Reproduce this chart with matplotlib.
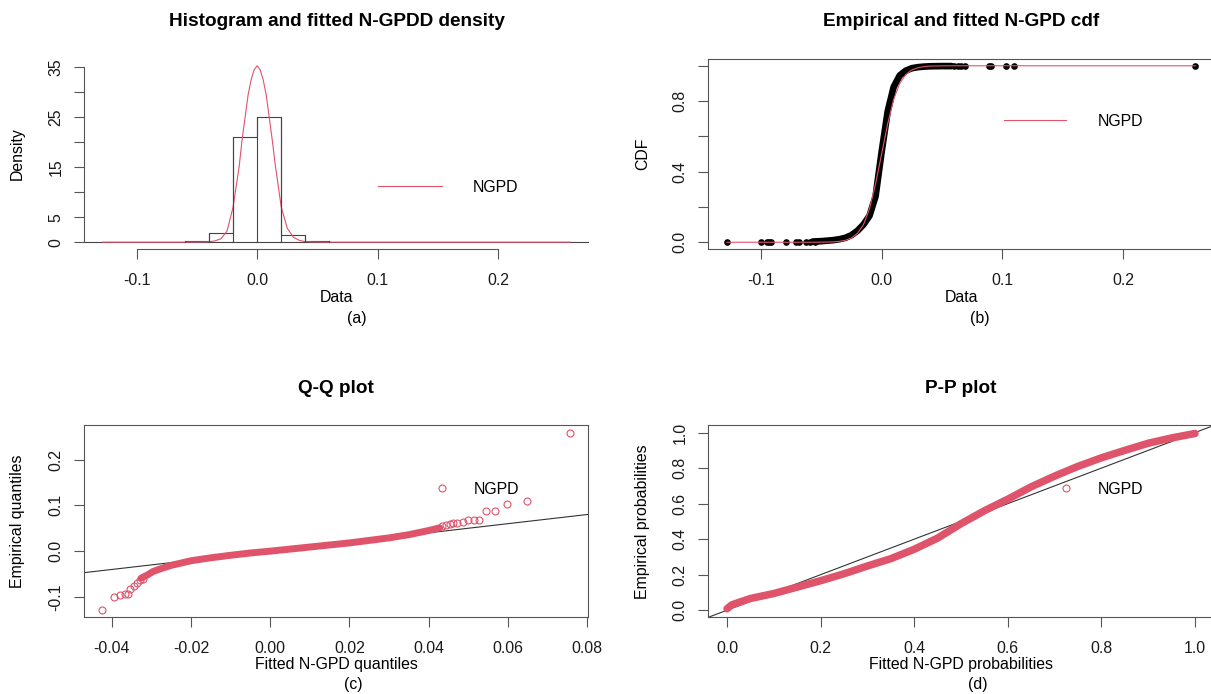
import matplotlib
matplotlib.use("Agg")
import matplotlib.pyplot as plt

plt.rcParams["font.family"] = ["Liberation Sans", "DejaVu Sans"]
plt.rcParams["font.size"] = 11.4

RED = "#DF536B"
AXC = "#555555"
W, H = 1211, 694

# ---- (a) histogram + fitted density ----
hist_edges = [-0.06, -0.04, -0.02, 0.0, 0.02, 0.04, 0.06]
hist_density = [0.2, 1.8, 21.1, 25.0, 1.45, 0.15]
dens_x = [-0.128, -0.06, -0.05, -0.04, -0.035, -0.03, -0.025, -0.02, -0.015, -0.0125, -0.01,
          -0.0075, -0.005, -0.0025, 0.0, 0.0025, 0.005, 0.0075, 0.01, 0.0125, 0.015, 0.02,
          0.025, 0.03, 0.035, 0.04, 0.05, 0.06, 0.26]
dens_y = [0.0, 0.0, 0.01, 0.08, 0.25, 0.7, 2.2, 7.0, 15.0, 20.5, 25.0,
          29.5, 32.5, 34.5, 35.3, 34.5, 32.5, 29.5, 25.0, 20.5, 15.5, 7.0,
          2.8, 1.0, 0.35, 0.1, 0.01, 0.0, 0.0]

# ---- (b) empirical and fitted cdf ----
ecdf_x = [-0.057, -0.05, -0.04, -0.035, -0.03, -0.025, -0.02, -0.015, -0.01, -0.005, 0.0,
          0.005, 0.01, 0.015, 0.02, 0.025, 0.03, 0.035, 0.04, 0.05, 0.058]
ecdf_p = [0.004, 0.006, 0.012, 0.017, 0.025, 0.04, 0.065, 0.1, 0.15, 0.26, 0.51,
          0.74, 0.88, 0.945, 0.972, 0.986, 0.992, 0.995, 0.997, 0.998, 0.998]
tail_x = [-0.128, -0.1, -0.0952, -0.0929, -0.0913, -0.079, -0.071, -0.0684, -0.0629, -0.0597,
          -0.0555, 0.0597, 0.063, 0.066, 0.0694, 0.0887, 0.0903, 0.1032, 0.1097, 0.2597]
tail_p = [0.0003, 0.0006, 0.0009, 0.0012, 0.0015, 0.0018, 0.0021, 0.0024, 0.0027, 0.003,
          0.0035, 0.9985, 0.9988, 0.999, 0.9992, 0.9994, 0.9995, 0.9997, 0.9998, 1.0]
fcdf_x = [-0.128, -0.06, -0.05, -0.04, -0.035, -0.03, -0.025, -0.02, -0.015, -0.01, -0.005,
          0.0, 0.005, 0.01, 0.015, 0.02, 0.025, 0.03, 0.035, 0.04, 0.05, 0.06, 0.26]
fcdf_p = [0.0, 0.0, 0.0005, 0.002, 0.005, 0.011, 0.024, 0.05, 0.1, 0.19, 0.33,
          0.5, 0.67, 0.81, 0.9, 0.95, 0.976, 0.989, 0.995, 0.998, 0.9995, 1.0, 1.0]

# ---- (c) Q-Q plot ----
qq_band_x = [-0.0326, -0.031, -0.0297, -0.0282, -0.0268, -0.025, -0.0225, -0.02, -0.015, -0.01,
             -0.005, 0.0, 0.005, 0.01, 0.015, 0.02, 0.025, 0.03, 0.035, 0.04, 0.0428]
qq_band_y = [-0.059, -0.052, -0.045, -0.040, -0.036, -0.031, -0.026, -0.021, -0.0145, -0.009,
             -0.004, 0.0, 0.0045, 0.009, 0.0135, 0.018, 0.0235, 0.029, 0.036, 0.045, 0.051]
qq_pts_x = [-0.0424, -0.0395, -0.0379, -0.0366, -0.0358, -0.0353, -0.0345, -0.0337, -0.033,
            -0.0322, 0.0435, 0.0443, 0.0454, 0.0462, 0.0472, 0.0486, 0.05, 0.0515, 0.0528,
            0.0544, 0.0567, 0.0599, 0.0648, 0.0756]
qq_pts_y = [-0.129, -0.101, -0.095, -0.093, -0.094, -0.082, -0.076, -0.07, -0.064,
            -0.06, 0.054, 0.0575, 0.06, 0.061, 0.0615, 0.063, 0.067, 0.067, 0.067,
            0.0885, 0.0885, 0.102, 0.11, 0.259]

# ---- (d) P-P plot ----
pp_fit = [0.0, 0.01, 0.05, 0.1, 0.15, 0.2, 0.25, 0.3, 0.35, 0.4, 0.45, 0.5, 0.55,
          0.6, 0.65, 0.7, 0.75, 0.8, 0.85, 0.9, 0.95, 1.0]
pp_emp = [0.008, 0.03, 0.066, 0.094, 0.13, 0.166, 0.205, 0.249, 0.29, 0.343, 0.406, 0.487, 0.56,
          0.625, 0.695, 0.755, 0.81, 0.858, 0.9, 0.94, 0.97, 0.995]

fig = plt.figure(figsize=(W / 100, H / 100), dpi=100)


def box(l, t, w, h):
    return [l / W, 1 - (t + h) / H, w / W, h / H]


def style(ax, full=True):
    for s in ax.spines.values():
        s.set_color(AXC)
        s.set_linewidth(0.8)
    if not full:
        ax.spines["top"].set_visible(False)
        ax.spines["right"].set_visible(False)
    ax.tick_params(length=7.2, width=0.8, color=AXC, labelcolor="#1a1a1a")
    ax.tick_params(axis="x", pad=9.8)
    ax.tick_params(axis="y", pad=7.6)
    for lab in ax.get_yticklabels():
        lab.set_rotation(90)
        lab.set_va("center")


def texts(cx, top, title, xlab, ylab, sub, ylx, axcy, subx):
    fig.text(cx / W, 1 - top / H, title, ha="center", va="center", fontsize=13.7, fontweight="bold")
    fig.text(cx / W, 1 - (top + 276) / H, xlab, ha="center", va="center")
    fig.text(subx / W, 1 - (top + 296.6) / H, sub, ha="center", va="center")
    fig.text(ylx / W, 1 - axcy / H, ylab, ha="center", va="center", rotation=90)


def add_legend(ax, handle, x, y, hl, tp):
    ax.legend([handle], ["NGPD"], loc="center left", frameon=False, borderpad=0, numpoints=1,
              handlelength=hl, handletextpad=tp,
              bbox_to_anchor=(x / W, 1 - y / H), bbox_transform=fig.transFigure)


# (a)
ax = fig.add_axes(box(84.2, 58.7, 505, 190.6))
ax.axhline(0, color="#444444", lw=0.8)
dl, = ax.plot(dens_x, dens_y, color=RED, lw=0.8)
ax.stairs(hist_density, hist_edges, color="#444444", lw=0.8)
for i in range(len(hist_density)):
    left_h = hist_density[i - 1] if i else 0
    ax.plot([hist_edges[i], hist_edges[i]], [0, max(left_h, hist_density[i])],
            color="#444444", lw=0.8)
ax.plot([hist_edges[-1]] * 2, [0, hist_density[-1]], color="#444444", lw=0.8)
ax.set_xlim(-0.1435, 0.2755)
ax.set_ylim(-1.43, 36.72)
ax.set_xticks([-0.1, 0.0, 0.1, 0.2], ["-0.1", "0.0", "0.1", "0.2"])
ax.set_yticks(range(0, 40, 5), ["0", "5", "", "15", "", "25", "", "35"])
ax.spines["bottom"].set_bounds(-0.1, 0.2)
ax.spines["left"].set_bounds(0, 35)
style(ax, full=False)
add_legend(ax, dl, 370, 187.5, 4.06, 1.93)
texts(336.7, 21.7, "Histogram and fitted N-GPDD density", "Data", "Density", "(a)", 17.2, 154, 357)

# (b)
ax = fig.add_axes(box(708.3, 58.7, 506, 190.6))
ax.plot(ecdf_x, ecdf_p, color="black", lw=4.8, solid_capstyle="round")
ax.plot(tail_x, tail_p, "o", color="black", ms=4.8, mew=0)
fl, = ax.plot(fcdf_x, fcdf_p, color=RED, lw=0.8)
ax.set_xlim(-0.1435, 0.2755)
ax.set_ylim(-0.04, 1.04)
ax.set_xticks([-0.1, 0.0, 0.1, 0.2], ["-0.1", "0.0", "0.1", "0.2"])
ax.set_yticks([0, 0.2, 0.4, 0.6, 0.8, 1.0], ["0.0", "", "0.4", "", "0.8", ""])
style(ax)
add_legend(ax, fl, 996, 121.5, 3.94, 1.96)
texts(961, 21.7, "Empirical and fitted N-GPD cdf", "Data", "CDF", "(b)", 642.9, 154, 979.6)

# (c)
ax = fig.add_axes(box(83.7, 425.5, 504.5, 191.8))
ax.axline((0, 0), slope=1, color="#333333", lw=0.8)
ax.plot(qq_band_x, qq_band_y, color=RED, lw=5.0, solid_capstyle="round")
pts, = ax.plot(qq_pts_x, qq_pts_y, "o", mfc="none", mec=RED, ms=5.0, mew=0.8)
ax.set_xlim(-0.0471, 0.0803)
ax.set_ylim(-0.1445, 0.2745)
ax.set_xticks([-0.04, -0.02, 0.0, 0.02, 0.04, 0.06, 0.08],
              ["-0.04", "-0.02", "0.00", "0.02", "0.04", "0.06", "0.08"])
ax.set_yticks([-0.1, 0.0, 0.1, 0.2], ["-0.1", "0.0", "0.1", "0.2"])
style(ax)
add_legend(ax, pts, 418, 489, 2.0, 1.0)
texts(336, 388.3, "Q-Q plot", "Fitted N-GPD quantiles", "Empirical quantiles", "(c)", 17.2, 521.4, 353)

# (d)
ax = fig.add_axes(box(708.3, 425.5, 505.4, 191.8))
ax.axline((0, 0), slope=1, color="#333333", lw=0.8)
ax.plot(pp_fit, pp_emp, color=RED, lw=5.4, solid_capstyle="round")
pp_leg, = ax.plot([], [], "o", mfc="none", mec=RED, ms=5.0, mew=0.8)
ax.set_xlim(-0.04, 1.04)
ax.set_ylim(-0.04, 1.04)
ticks = [0, 0.2, 0.4, 0.6, 0.8, 1.0]
tl = ["0.0", "0.2", "0.4", "0.6", "0.8", "1.0"]
ax.set_xticks(ticks, tl)
ax.set_yticks(ticks, tl)
style(ax)
add_legend(ax, pp_leg, 1042, 489, 2.0, 1.0)
texts(961, 388.3, "P-P plot", "Fitted N-GPD probabilities", "Empirical probabilities", "(d)", 642.9, 521.4, 978)

fig.savefig("out.png", dpi=100)
